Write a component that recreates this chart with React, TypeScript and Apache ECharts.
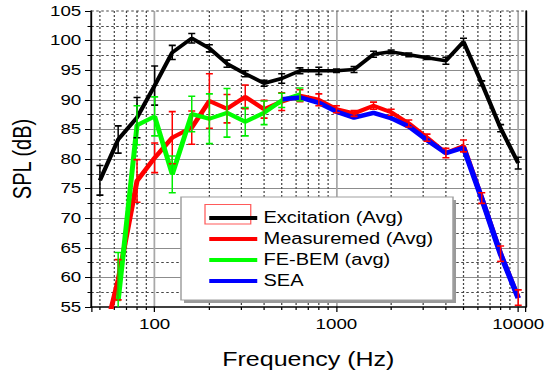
import React, { useEffect, useRef } from 'react';
import * as echarts from 'echarts';

const freqs = [50, 63, 80, 100, 125, 160, 200, 250, 315, 400, 500, 630, 800, 1000, 1250, 1600, 2000, 2500, 3150, 4000, 5000, 6300, 8000, 10000];
const excitation = [76.4, 83.3, 87.0, 92.4, 98.0, 100.4, 98.7, 96.1, 94.4, 92.8, 93.6, 94.9, 94.9, 94.9, 95.1, 97.7, 98.1, 97.6, 97.1, 96.6, 99.8, 92.8, 85.2, 79.3];
const excitationErr = [2.5, 2.3, 3.4, 3.3, 1.2, 0.8, 0.6, 0.6, 0.5, 0.5, 0.8, 0.5, 0.6, 0.3, 0.5, 0.5, 0.3, 0.3, 0.3, 0.6, 0.6, 0.4, 0.6, 1.0];
const measured = [47, 59.6, 76.3, 80.2, 83.6, 85.3, 89.8, 88.5, 90.5, 88.4, 89.7, 90.7, 90.0, 88.4, 87.7, 89.0, 87.9, 86.0, 83.6, 81.0, 82.2, 73.4, 64.0, 56.6];
const measuredErr = [0, 3.4, 3.6, 2.5, 4.4, 2.8, 4.6, 2.4, 2.0, 1.5, 1.5, 1.0, 1.0, 0.6, 0.5, 0.6, 0.5, 0.6, 0.6, 0.8, 1.0, 0.9, 1.3, 1.3];
const feBem = [null, 56, 85.7, 87.2, 77.4, 87.6, 86.8, 87.8, 86.3, 87.8, 89.9, 90.9, null, null, null, null, null, null, null, null, null, null, null, null];
const feBemErr = [0, 8.2, 3.3, 3.3, 3.1, 3.0, 4.2, 4.1, 2.4, 2.0, 1.2, 1.1, 0, 0, 0, 0, 0, 0, 0, 0, 0, 0, 0, 0];
const sea = [null, null, null, null, null, null, null, null, null, null, 90.1, 90.4, 89.5, 88.0, 87.0, 87.8, 86.9, 85.5, 83.2, 81.0, 81.9, 73.3, 63.9, 56.5];

const seriesNames = ['Excitation (Avg)', 'Measuremed (Avg)', 'FE-BEM (avg)', 'SEA'];
const seriesColors = ['#000000', '#ff0000', '#00ff00', '#0000ff'];
const minorFreqs = [50, 60, 70, 80, 90, 200, 300, 400, 500, 600, 700, 800, 900, 2000, 3000, 4000, 5000, 6000, 7000, 8000, 9000];

const FONT = '"Liberation Sans", Arial, Helvetica, sans-serif';
const SX = 1.25;
const W = 548 / SX;
const H = 376;

function toPoints(vals: (number | null)[]) {
  const out: number[][] = [];
  vals.forEach((v, i) => {
    if (v !== null && v !== undefined) out.push([freqs[i], v]);
  });
  return out;
}

function toErr(vals: (number | null)[], errs: number[]) {
  const out: number[][] = [];
  vals.forEach((v, i) => {
    if (v !== null && v !== undefined && errs[i] > 0) out.push([freqs[i], v - errs[i], v + errs[i]]);
  });
  return out;
}

const errRender = (color: string) => (params: any, api: any) => {
  const x = api.value(0);
  const lo = api.value(1);
  const hi = api.value(2);
  const t = api.coord([x, hi]);
  const b = api.coord([x, lo]);
  const hw = 2.8;
  const capStyle = { stroke: color, lineWidth: 1.6 };
  return {
    type: 'group',
    children: [
      { type: 'line', shape: { x1: t[0], y1: t[1], x2: b[0], y2: b[1] }, style: { stroke: color, lineWidth: 1.2 } },
      { type: 'line', shape: { x1: t[0] - hw, y1: t[1], x2: t[0] + hw, y2: t[1] }, style: capStyle },
      { type: 'line', shape: { x1: b[0] - hw, y1: b[1], x2: b[0] + hw, y2: b[1] }, style: capStyle },
    ],
  };
};

const gridRender = (params: any, api: any) => {
  const cs = params.coordSys;
  const x = api.coord([api.value(0), 80])[0];
  const dotted = { stroke: '#444', lineWidth: 1, lineDash: [2, 2] };
  const children: any[] = [
    { type: 'line', shape: { x1: x, y1: cs.y, x2: x, y2: cs.y + cs.height }, style: dotted },
    { type: 'line', shape: { x1: x, y1: cs.y + cs.height, x2: x, y2: cs.y + cs.height + 3 }, style: { stroke: '#000', lineWidth: 1 } },
  ];
  if (params.dataIndex === 0) {
    children.push({ type: 'line', shape: { x1: cs.x, y1: cs.y, x2: cs.x + cs.width, y2: cs.y }, style: dotted });
  }
  return { type: 'group', children };
};

export default function App() {
  const ref = useRef<HTMLDivElement>(null);
  useEffect(() => {
    if (!ref.current) return;
    const chart = echarts.init(ref.current, null, { renderer: 'svg', width: W, height: H });
    const lineVals = [excitation, measured, feBem, sea];
    const widths = [3.5, 4, 4, 4.5];
    const lineSeries = lineVals.map((vals, k) => ({
      type: 'line',
      name: seriesNames[k],
      data: toPoints(vals as (number | null)[]),
      symbol: 'none',
      clip: true,
      z: 2 + k,
      lineStyle: { color: seriesColors[k], width: widths[k] },
      itemStyle: { color: seriesColors[k] },
    }));
    const errSets = [
      [excitation, excitationErr, '#000000'],
      [measured, measuredErr, '#ff0000'],
      [feBem, feBemErr, '#00ee00'],
    ] as any[];
    const errSeries = errSets.map(([vals, errs, color], k) => ({
      type: 'custom',
      data: toErr(vals, errs),
      encode: { x: 0, y: [1, 2] },
      renderItem: errRender(color),
      clip: true,
      silent: true,
      z: 8 + k,
    }));
    const option: any = {
      animation: false,
      backgroundColor: '#ffffff',
      grid: { left: 70.4, right: W - 422.4, top: 11, bottom: 69 },
      xAxis: {
        type: 'log',
        logBase: 10,
        min: 44.8,
        max: 10956,
        axisLine: { onZero: false, lineStyle: { color: '#000', width: 1.5 } },
        axisTick: { show: true, length: 5, lineStyle: { color: '#000', width: 1 } },
        splitLine: { show: true, showMinLine: false, showMaxLine: false, lineStyle: { color: '#a8a8a8', width: 1.4 } },
        axisLabel: {
          fontSize: 15,
          fontFamily: FONT,
          color: '#000',
          margin: 10,
          formatter: (v: number) => {
            const l = Math.log10(v);
            return Math.abs(l - Math.round(l)) < 1e-6 ? String(Math.round(v)) : '';
          },
        },
        name: 'Frequency (Hz)',
        nameLocation: 'middle',
        nameGap: 42,
        nameTextStyle: { fontSize: 20, fontFamily: FONT, color: '#000' },
      },
      yAxis: [
        {
          type: 'value',
          min: 55,
          max: 105,
          interval: 5,
          position: 'left',
          axisLine: { show: true, lineStyle: { color: '#000', width: 1.5 } },
          axisTick: { show: true, length: 5, lineStyle: { color: '#000' } },
          minorTick: { show: true, splitNumber: 2, length: 3, lineStyle: { color: '#000' } },
          splitLine: { show: true, showMinLine: false, showMaxLine: false, lineStyle: { color: '#8c8c8c', width: 1.2 } },
          minorSplitLine: { show: true, lineStyle: { color: '#444', type: [2, 2], width: 1 } },
          axisLabel: { fontSize: 15, fontFamily: FONT, color: '#000', margin: 8 },
          name: 'SPL (dB)',
          nameLocation: 'middle',
          nameGap: 45,
          nameTextStyle: { fontSize: 20, fontFamily: FONT, color: '#000' },
        },
        {
          type: 'value',
          min: 55,
          max: 105,
          interval: 5,
          position: 'right',
          axisLine: { show: true, lineStyle: { color: '#000', width: 1.5 } },
          axisTick: { show: false },
          axisLabel: { show: false },
          splitLine: { show: false },
        },
      ],
      legend: {
        data: seriesNames,
        orient: 'vertical',
        left: 162.4,
        top: 205,
        icon: 'rect',
        itemWidth: 38.4,
        itemHeight: 4,
        itemGap: 5,
        z: 20,
        selectedMode: false,
        textStyle: { fontSize: 16, fontFamily: FONT, color: '#000' },
      },
      graphic: [
        { type: 'rect', z: 10, shape: { x: 147.2, y: 200, width: 217.6, height: 103 }, style: { fill: '#9a9a9a' } },
        { type: 'rect', z: 11, shape: { x: 144.8, y: 197, width: 217.6, height: 103 }, style: { fill: '#fff', stroke: '#a0a0a0', lineWidth: 1.2 } },
        { type: 'rect', z: 12, shape: { x: 164, y: 204.5, width: 36.6, height: 19.5 }, style: { fill: 'none', stroke: '#ff5a5a', lineWidth: 1 } },
      ],
      series: [
        {
          type: 'custom',
          data: minorFreqs.map((f) => [f, 80]),
          encode: { x: 0, y: 1 },
          renderItem: gridRender,
          clip: false,
          silent: true,
          z: 1,
        },
        ...lineSeries,
        ...errSeries,
      ],
    };
    chart.setOption(option);
    return () => chart.dispose();
  }, []);
  return (
    <div
      style={{
        position: 'fixed',
        left: 0,
        top: 0,
        width: W,
        height: H,
        transform: `scaleX(${SX})`,
        transformOrigin: '0 0',
        background: '#fff',
      }}
    >
      <div ref={ref} style={{ width: W, height: H }} />
    </div>
  );
}
